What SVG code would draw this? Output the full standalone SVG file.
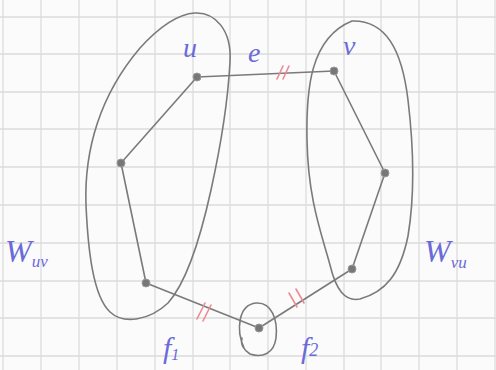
<svg xmlns="http://www.w3.org/2000/svg" width="496" height="370" viewBox="0 0 496 370">
<style>
.grid{stroke:#dcdcdc;stroke-width:1.3}
.pen{fill:none;stroke:#7a7a7a;stroke-width:1.6;stroke-linecap:round;stroke-linejoin:round}
.node{fill:#777;stroke:#999;stroke-width:1}
.hash{stroke:#ec8a94;stroke-width:1.6;stroke-linecap:round}
.lbl{font-family:"Liberation Serif",serif;font-style:italic;fill:#6c6ad8}
</style>
<rect width="496" height="370" fill="#fbfbfb"/>
<g id="grid">
<path class="grid" d="M3,0V370M41,0V370M79,0V370M117,0V370M155,0V370M193,0V370M230,0V370M268,0V370M306,0V370M344,0V370M381,0V370M419,0V370M457,0V370M495,0V370"/>
<path class="grid" d="M0,17H496M0,54H496M0,92H496M0,129H496M0,167H496M0,205H496M0,243H496M0,281H496M0,318H496M0,356H496"/>
</g>
<g id="blob-Wuv">
<path class="pen" d="M195,13 C215,12 232,30 230,62 C228,100 222,140 211,190 C200,240 186,283 168,303 C150,320 124,325 110,312 C93,296 88,250 86,205 C84,150 100,95 140,48 C160,26 178,14 195,13 Z"/>
</g>
<g id="blob-Wvu">
<path class="pen" d="M352,21 C386,20 402,50 408,100 C414,150 414,200 408,236 C400,275 385,292 360,299 C345,302 336,290 330,265 C322,235 308,200 307,140 C306,90 310,38 352,21 Z"/>
</g>
<g id="blob-x">
<path class="pen" d="M244,348 C236,330 238,305 256,303 C272,302 278,320 276,338 C274,354 262,358 250,354 C244,350 240,344 242,338"/>
</g>
<g id="connectors">
<path class="pen" d="M197,77 L334,71"/>
<path class="pen" d="M197,77 L121,163"/>
<path class="pen" d="M121,163 L146,283"/>
<path class="pen" d="M146,283 L259,328"/>
<path class="pen" d="M259,328 L352,269"/>
<path class="pen" d="M352,269 L385,173"/>
<path class="pen" d="M385,173 L334,71"/>
<path class="hash" d="M277,79 L283,66 M283,79 L289,66"/>
<path class="hash" d="M197,319 L205,303 M203,321 L211,305"/>
<path class="hash" d="M289,293 L297,307 M296,289 L304,303"/>
</g>
<g id="node-u"><circle class="node" cx="197" cy="77" r="4"/></g>
<g id="node-a"><circle class="node" cx="121" cy="163" r="4"/></g>
<g id="node-b"><circle class="node" cx="146" cy="283" r="4"/></g>
<g id="node-x"><circle class="node" cx="259" cy="328" r="4"/></g>
<g id="node-c"><circle class="node" cx="352" cy="269" r="4"/></g>
<g id="node-d"><circle class="node" cx="385" cy="173" r="4"/></g>
<g id="node-v"><circle class="node" cx="334" cy="71" r="4"/></g>
<g id="labels">
<text class="lbl" x="183" y="57" font-size="28">u</text>
<text class="lbl" x="248" y="62" font-size="28">e</text>
<text class="lbl" x="343" y="55" font-size="28">v</text>
<text class="lbl" x="5" y="262" font-size="32">W<tspan font-size="17" dy="5">uv</tspan></text>
<text class="lbl" x="424" y="262" font-size="32">W<tspan font-size="17" dy="6">vu</tspan></text>
<text class="lbl" x="163" y="358" font-size="30">f<tspan font-size="16" dy="2">1</tspan></text>
<text class="lbl" x="301" y="358" font-size="30">f<tspan font-size="18" dy="-2">2</tspan></text>
</g>
</svg>
